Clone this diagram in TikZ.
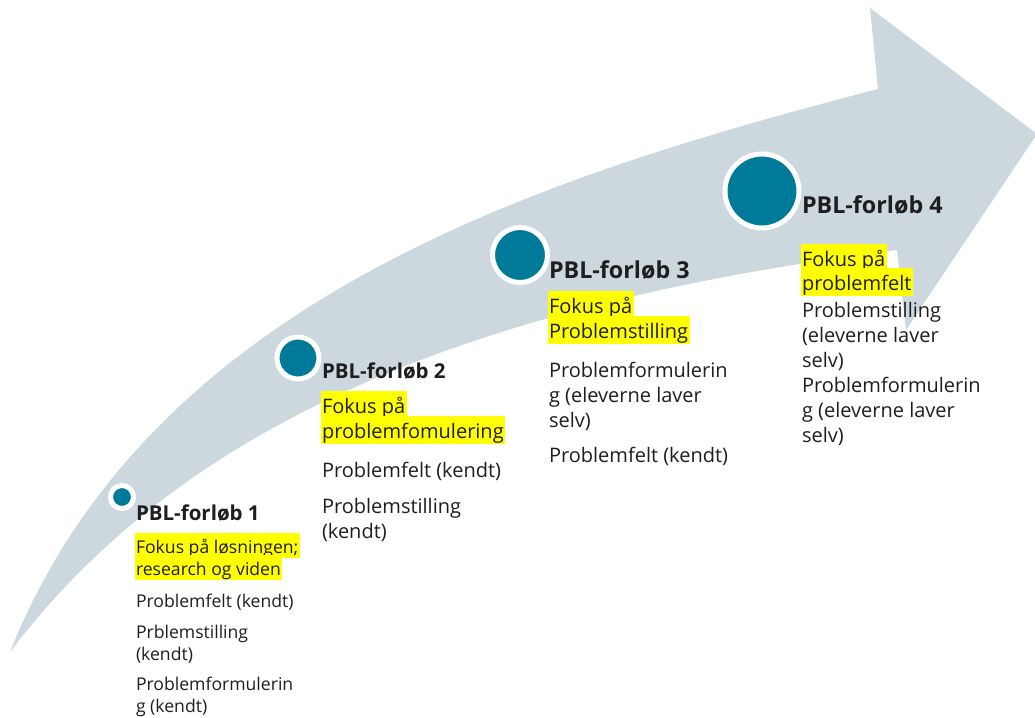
\documentclass[tikz,border=0pt]{standalone}
\usepackage{fontspec}
\setmainfont{Open Sans}
\usetikzlibrary{positioning}

\definecolor{bandgrey}{HTML}{CCD7DE}
\definecolor{dotteal}{HTML}{007A99}
\definecolor{focusyellow}{HTML}{FFFF00}
\definecolor{inkblack}{HTML}{1E1E1E}

\newcommand{\headfont}[1]{\bfseries\fontsize{#1}{#1}\selectfont}
\newcommand{\smalltext}{\fontsize{17.6}{22}\selectfont}
\newcommand{\largetext}{\fontsize{20}{25}\selectfont}

\begin{document}
\begin{tikzpicture}[x=1pt, y=-1pt,
  every node/.style = {inner sep=0pt, text=inkblack},
  stagedot/.style = {circle, fill=dotteal, draw=white, line width=5pt, minimum size=#1},
  stagehead/.style = {anchor=text, font=\headfont{#1}},
  baseunder/.style args = {#1 of #2}{below=#1 of #2, anchor=text},
  focussmall/.style = {fill=focusyellow, inner xsep=1.5pt, font=\smalltext, text height=20pt, text depth=5pt},
  focuslarge/.style = {fill=focusyellow, inner xsep=1.5pt, font=\largetext, text height=22pt, text depth=6pt},
  notesmall/.style = {align=left, font=\smalltext},
  notelarge/.style = {align=left, font=\largetext}]
  \useasboundingbox (0,0) rectangle (1035,717);

  % the big curved arrow
  \fill[bandgrey] (10,652) .. controls (152,296) and (548,175) .. (878,89)
    -- (870,8) -- (1037,134) -- (906,330) -- (897,250)
    .. controls (447,307) and (174.5,435) .. (10,652) -- cycle;

  % stage 1 (distances run from last baseline to last baseline)
  \node[stagedot=23pt] (dot1) at (122,497) {};
  \node[stagehead=20.5] (head1) at (136,520) {PBL-forløb 1};
  \node[focussmall, baseunder=33pt of head1.text] (focus1a) {Fokus på løsningen;\ };
  \node[focussmall, baseunder=22pt of focus1a.text] (focus1b) {research og viden};
  \node[notesmall, baseunder=32pt of focus1b.text] (note1a) {Problemfelt (kendt)};
  \node[notesmall, baseunder=53pt of note1a.text] (note1b) {Prblemstilling\\(kendt)};
  \node[notesmall, baseunder=52pt of note1b.text] (note1c) {Problemformulerin\\g (kendt)};

  % stage 2
  \node[stagedot=42pt] (dot2) at (298,358) {};
  \node[stagehead=20.5] (head2) at (322,378) {PBL-forløb 2};
  \node[focuslarge, baseunder=35pt of head2.text] (focus2a) {Fokus på\ };
  \node[focuslarge, baseunder=25pt of focus2a.text] (focus2b) {problemfomulering};
  \node[notelarge, baseunder=39pt of focus2b.text] (note2a) {Problemfelt (kendt)};
  \node[notelarge, baseunder=61pt of note2a.text] (note2b) {Problemstilling\\(kendt)};

  % stage 3
  \node[stagedot=55pt] (dot3) at (520,255) {};
  \node[stagehead=23.3] (head3) at (549,278) {PBL-forløb 3};
  \node[focuslarge, baseunder=35pt of head3.text] (focus3a) {Fokus på\ };
  \node[focuslarge, baseunder=25pt of focus3a.text] (focus3b) {Problemstilling};
  \node[notelarge, baseunder=89pt of focus3b.text] (note3a) {Problemformulerin\\g (eleverne laver\\selv)};
  \node[notelarge, baseunder=35pt of note3a.text] (note3b) {Problemfelt (kendt)};

  % stage 4
  \node[stagedot=74pt] (dot4) at (762,191) {};
  \node[stagehead=23.3] (head4) at (802,213) {PBL-forløb 4};
  \node[focuslarge, baseunder=53pt of head4.text] (focus4a) {Fokus på\ };
  \node[focuslarge, baseunder=24pt of focus4a.text] (focus4b) {problemfelt};
  \node[notelarge, baseunder=152pt of focus4b.text] (note4a) {Problemstilling\\(eleverne laver\\selv)\\Problemformulerin\\g (eleverne laver\\selv)};
\end{tikzpicture}
\end{document}
